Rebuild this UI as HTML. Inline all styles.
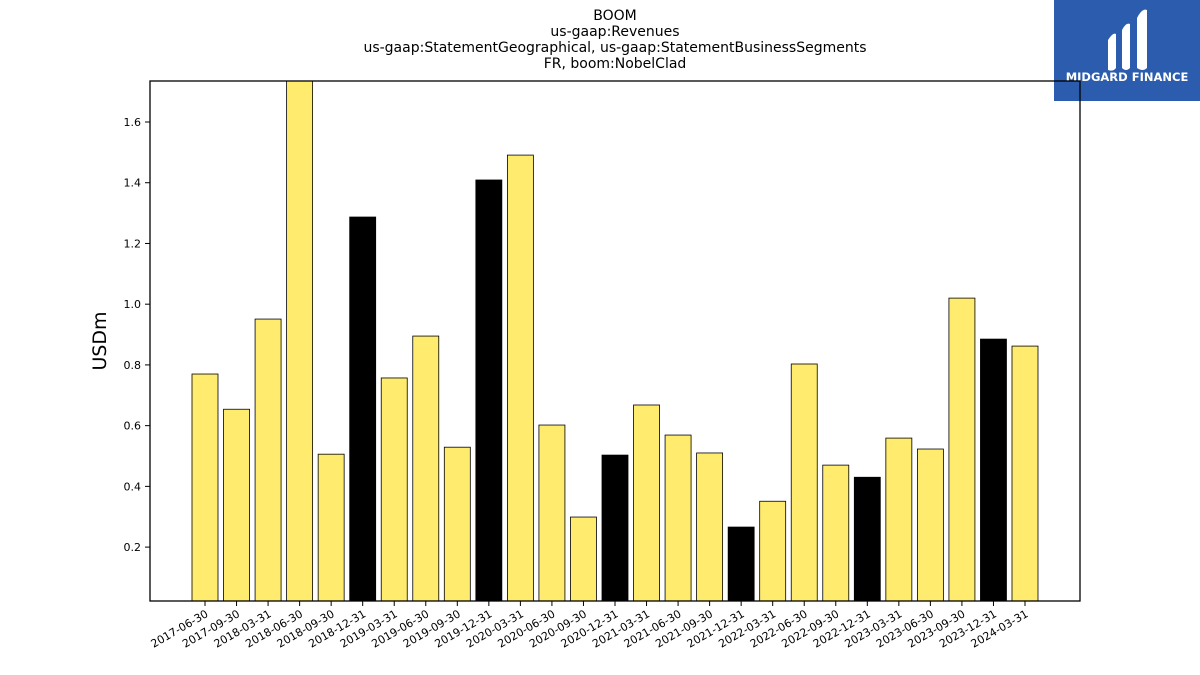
<!DOCTYPE html>
<html><head><meta charset="utf-8"><style>
body{margin:0;background:#fff;font-family:"DejaVu Sans","Liberation Sans",sans-serif;}
svg{display:block}
</style></head><body>
<svg id="chart" width="1200" height="675" xmlns="http://www.w3.org/2000/svg">
<g font-size="14" text-anchor="middle" fill="#000">
<text x="615" y="20">BOOM</text>
<text x="615" y="36">us-gaap:Revenues</text>
<text x="615" y="52">us-gaap:StatementGeographical, us-gaap:StatementBusinessSegments</text>
<text x="615" y="68">FR, boom:NobelClad</text>
</g>
<g>
<rect x="1054" y="0" width="146" height="101" fill="#2b5cad"/>
<path d="M1108 40 q5 -8 8 -6 v34 q-3 4 -8 2 z" fill="#fff"/>
<path d="M1122 30 q4 -8 8 -6 v44 q-4 4 -8 0 z" fill="#fff"/>
<path d="M1137 18 q5 -10 10 -8 v58 q-4 4 -10 0 z" fill="#fff"/>
<text x="1127" y="81" font-size="11.5" font-weight="bold" fill="#fff" text-anchor="middle">MIDGARD FINANCE</text>
</g>
<g id="bars"></g>
<rect x="150" y="81" width="930" height="520" fill="none" stroke="#000" stroke-width="1.3"/>
<g id="yaxis" font-size="11"></g>
<g id="xaxis" font-size="11"></g>
<text x="0" y="0" transform="translate(106,341) rotate(-90)" font-size="19" text-anchor="middle">USDm</text>
</svg>
<script>
const categories=["2017-06-30","2017-09-30","2018-03-31","2018-06-30","2018-09-30","2018-12-31","2019-03-31","2019-06-30","2019-09-30","2019-12-31","2020-03-31","2020-06-30","2020-09-30","2020-12-31","2021-03-31","2021-06-30","2021-09-30","2021-12-31","2022-03-31","2022-06-30","2022-09-30","2022-12-31","2023-03-31","2023-06-30","2023-09-30","2023-12-31","2024-03-31"];
const values=[0.77,0.654,0.951,1.8,0.506,1.287,0.757,0.895,0.529,1.409,1.491,0.602,0.299,0.503,0.668,0.569,0.51,0.266,0.351,0.803,0.47,0.43,0.559,0.523,1.02,0.885,0.862];
const annual=[0,0,0,0,0,1,0,0,0,1,0,0,0,1,0,0,0,1,0,0,0,1,0,0,0,1,0];
const yTicks=[0.2,0.4,0.6,0.8,1.0,1.2,1.4,1.6];
const NS="http://www.w3.org/2000/svg";
const plotTop=81,plotBot=601,plotLeft=150,plotRight=1080,yMin=0.0225,yMax=1.735;
const yScale=v=>plotBot-(v-yMin)/(yMax-yMin)*(plotBot-plotTop);
const xScale=i=>205+i*(1025-205)/(categories.length-1);
const bw=26;
function mk(t,a,p){const e=document.createElementNS(NS,t);for(const k in a)e.setAttribute(k,a[k]);p.appendChild(e);return e;}
const barsG=document.getElementById('bars');
values.forEach((v,i)=>{
 const yy=Math.max(yScale(v),plotTop);
 const r=mk('rect',{x:xScale(i)-bw/2,y:yy,width:bw,height:plotBot-yy,fill:annual[i]?'#000':'#ffeb6e',stroke:'#000','stroke-width':0.8},barsG);
 
 
});
const ya=document.getElementById('yaxis');
yTicks.forEach(t=>{
 mk('line',{x1:plotLeft-5,x2:plotLeft,y1:yScale(t),y2:yScale(t),stroke:'#000'},ya);
 const tx=mk('text',{x:plotLeft-9,y:yScale(t)+4,'text-anchor':'end'},ya);
 tx.textContent=t.toFixed(1);
 
 
});
const xa=document.getElementById('xaxis');
categories.forEach((c,i)=>{
 mk('line',{x1:xScale(i),x2:xScale(i),y1:plotBot,y2:plotBot+5,stroke:'#000'},xa);
 const tx=mk('text',{transform:`translate(${xScale(i)+4},${plotBot+15}) rotate(-30)`,'text-anchor':'end'},xa);
 tx.textContent=c;
 
 
});
</script>
</body></html>
